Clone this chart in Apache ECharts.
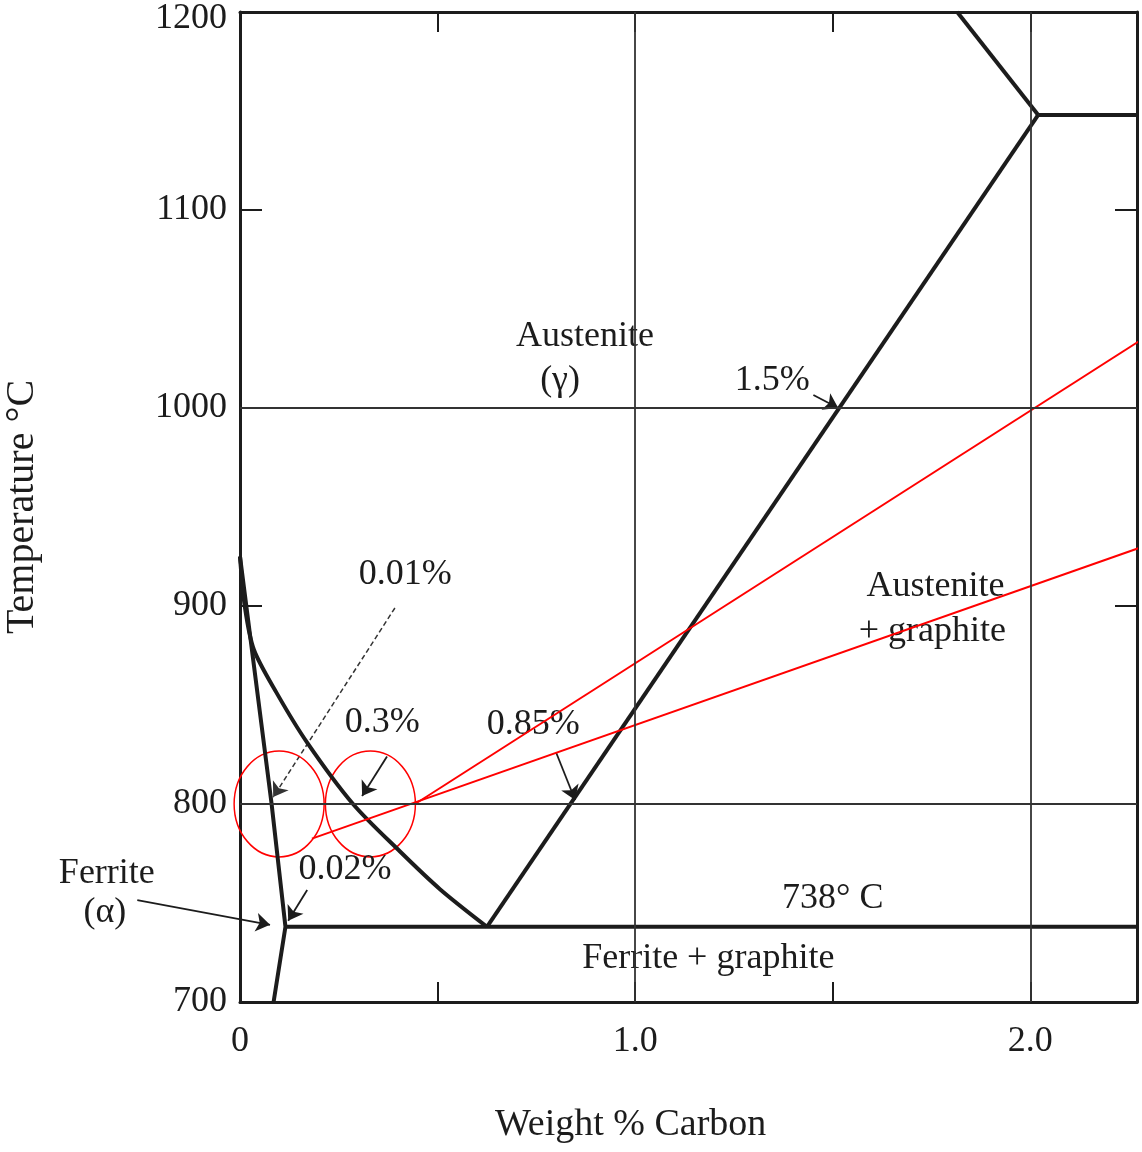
<!DOCTYPE html>
<html>
<head>
<meta charset="utf-8">
<script src="https://cdn.jsdelivr.net/npm/echarts@6/dist/echarts.min.js"></script>
<style>
  html, body { margin: 0; padding: 0; background: #fff; }
  #main { width: 1142px; height: 1152px; }
</style>
</head>
<body>
<div id="main"></div>
<script>
// Fe-C phase boundaries (wt% C, deg C)
var ferriteLine = [[0, 925], [0.08, 800], [0.115, 738], [0.085, 700]];
var austeniteCurve = [[0, 925], [0.012, 900], [0.035, 878], [0.093, 856], [0.17, 831], [0.286, 800], [0.405, 776], [0.506, 757], [0.625, 738]];
var solvusLine = [[0.625, 738], [2.02, 1148]];
var liquidusLine = [[1.815, 1200], [2.02, 1148]];
var eutecticLine = [[2.02, 1148], [2.27, 1148]];
var eutectoidLine = [[0.115, 738], [2.27, 738]];

var gridX = [1.0, 2.0];
var gridY = [800, 1000];

// red construction lines and circles
var redLineA = [[0.443, 800], [2.285, 1035]];
var redLineB = [[0.182, 782.5], [2.285, 930]];
var redCircles = [[0.099, 800], [0.33, 800]];

// annotation arrows: [from, to]
var arrows = [
  [[1.451, 1006.6], [1.514, 1000]],
  [[0.372, 824], [0.309, 804]],
  [[0.8, 826], [0.848, 802]],
  [[0.17, 756.6], [0.122, 741]],
  [[-0.26, 751.5], [0.076, 739]]
];
var dashedArrow = [[0.392, 899], [0.084, 803.5]];

var labelNames = ['Austenite', '(γ)', '1.5%', '0.01%', '0.3%', '0.85%', 'Austenite', '+ graphite', 'Ferrite', '(α)', '0.02%', '738° C', 'Ferrite + graphite'];
var labelPos = [[0.873, 1036], [0.81, 1014], [1.347, 1014], [0.418, 916], [0.36, 841], [0.742, 840], [1.76, 910], [1.752, 887], [-0.337, 765], [-0.342, 745], [0.266, 767], [1.50, 752.5], [1.185, 722]];

var serif = '"Liberation Serif", "DejaVu Serif", serif';
var ink = '#1c1c1c';

var chart = echarts.init(document.getElementById('main'));

function boundary(data, smooth) {
  return {
    type: 'line', data: data, showSymbol: false, smooth: smooth || false,
    silent: true, clip: false,
    lineStyle: { color: ink, width: 4, opacity: 1 }
  };
}

var xAxisBase = {
  type: 'value', min: 0, max: 2.27, interval: 0.5,
  axisLine: { show: true, onZero: false, lineStyle: { color: ink, width: 3 } },
  axisTick: { show: true, inside: true, length: 20, lineStyle: { color: ink, width: 2 } },
  splitLine: { show: false }
};
var yAxisBase = {
  type: 'value', min: 700, max: 1200, interval: 100,
  axisLine: { show: true, onZero: false, lineStyle: { color: ink, width: 3 } },
  axisTick: { show: true, inside: true, length: 22, lineStyle: { color: ink, width: 2 } },
  splitLine: { show: false }
};

var option = {
  backgroundColor: '#fff',
  animation: false,
  grid: { left: 240, right: 5, top: 12, bottom: 150, containLabel: false, outerBoundsMode: 'none' },
  xAxis: [
    Object.assign({}, xAxisBase, {
      position: 'bottom',
      axisLabel: {
        show: true, margin: 22, color: ink, fontFamily: serif, fontSize: 36,
        showMaxLabel: false,
        formatter: function (v) {
          if (Math.abs(v % 1) > 1e-6) return '';
          return v === 0 ? '0' : v.toFixed(1);
        }
      }
    }),
    Object.assign({}, xAxisBase, { position: 'top', axisLabel: { show: false } })
  ],
  yAxis: [
    Object.assign({}, yAxisBase, {
      position: 'left',
      name: 'Temperature °C', nameLocation: 'middle', nameGap: 198,
      nameTextStyle: { color: ink, fontFamily: serif, fontSize: 40 },
      axisLabel: {
        show: true, margin: 13, color: ink, fontFamily: serif, fontSize: 36,
        formatter: function (v) { return v === 1200 ? '{t|' + v + '}' : String(v); },
        rich: { t: { padding: [14, 0, 0, 0], color: ink, fontFamily: serif, fontSize: 36 } }
      }
    }),
    Object.assign({}, yAxisBase, { position: 'right', axisLabel: { show: false } })
  ],
  graphic: [{
    type: 'text', left: 495, top: 1106,
    style: { text: 'Weight % Carbon', font: '38px ' + serif, fill: ink }
  }],
  series: [
    {
      type: 'line', data: [], silent: true,
      markLine: {
        silent: true, symbol: 'none', label: { show: false },
        lineStyle: { color: '#333', width: 1.8, type: 'solid', opacity: 1 },
        data: gridX.map(function (v) { return { xAxis: v }; })
          .concat(gridY.map(function (v) { return { yAxis: v }; }))
      }
    },
    boundary(ferriteLine),
    boundary(austeniteCurve, 0.3),
    boundary(solvusLine),
    boundary(liquidusLine),
    boundary(eutecticLine),
    boundary(eutectoidLine),
    {
      type: 'lines', coordinateSystem: 'cartesian2d', silent: true, clip: false,
      symbol: ['none', 'arrow'], symbolSize: 14,
      lineStyle: { color: ink, width: 1.8, opacity: 1 },
      data: arrows.map(function (a) { return { coords: a }; })
    },
    {
      type: 'lines', coordinateSystem: 'cartesian2d', silent: true, clip: false,
      symbol: ['none', 'arrow'], symbolSize: 14,
      lineStyle: { color: '#333', width: 1.5, type: [5, 3], opacity: 1 },
      data: [{ coords: dashedArrow }]
    },
    {
      type: 'line', data: redLineA, showSymbol: false, silent: true, clip: false,
      lineStyle: { color: '#ff0000', width: 2, opacity: 1 }
    },
    {
      type: 'line', data: redLineB, showSymbol: false, silent: true, clip: false,
      lineStyle: { color: '#ff0000', width: 2, opacity: 1 }
    },
    {
      type: 'scatter', data: redCircles, symbol: 'circle', symbolSize: [90, 106],
      silent: true, clip: false,
      itemStyle: { color: 'rgba(0,0,0,0)', borderColor: '#ff0000', borderWidth: 1.6, opacity: 1 }
    },
    {
      type: 'scatter', silent: true, clip: false, symbolSize: 1,
      itemStyle: { color: 'rgba(0,0,0,0)', opacity: 1 },
      label: {
        show: true, position: 'inside', color: ink, opacity: 1, fontFamily: serif, fontSize: 36,
        formatter: function (p) { return p.name; }
      },
      data: labelNames.map(function (n, i) { return { name: n, value: labelPos[i] }; })
    }
  ]
};

chart.setOption(option);
</script>
</body>
</html>
